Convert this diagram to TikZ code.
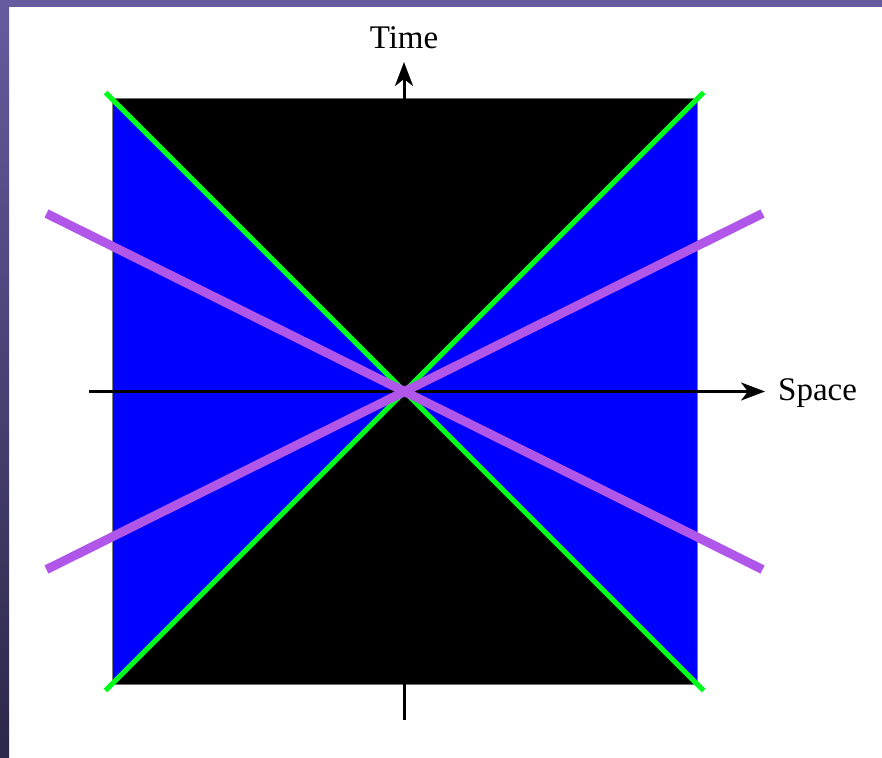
\documentclass[tikz,border=0pt]{standalone}
\usepackage{fontspec}
\setmainfont{Liberation Serif}
\usetikzlibrary{arrows.meta,calc}
\definecolor{bandtop}{HTML}{665B9E}
\definecolor{bandbot}{HTML}{2C2849}
\definecolor{lightblue}{HTML}{0000FF}
\definecolor{conegreen}{HTML}{00FF1A}
\definecolor{violet}{HTML}{B056E9}
\begin{document}
\begin{tikzpicture}[x=1pt,y=-1pt,
  axis/.style={line width=3pt,draw=black},
  tip/.style={-{Stealth[length=24pt,width=18pt,inset=7pt]}},
  cone/.style={line width=5pt,draw=conegreen},
  frame/.style={line width=9pt,draw=violet},
  lbl/.style={font=\fontsize{33}{40}\selectfont,inner sep=0pt}]
\useasboundingbox (0,0) rectangle (882,757);
\fill[white] (0,0) rectangle (882,757);
\shade[top color=bandtop,bottom color=bandbot] (0,0) rectangle (9,757);
\fill[bandtop] (0,0) rectangle (882,7);
% key points
\coordinate (O) at (404.5,391.5);
\coordinate (TL) at (112,99);
\coordinate (TR) at (697,99);
\coordinate (BL) at (112,684);
\coordinate (BR) at (697,684);
% diagram square
\filldraw[fill=lightblue,draw=gray,line width=1pt] (TL) rectangle (BR);
\fill[black] (TL) -- (TR) -- (O) -- cycle;
\fill[black] (BL) -- (BR) -- (O) -- cycle;
% axes
\coordinate (tbot) at (404,720);
\coordinate (ttop) at (404,62);
\coordinate (sleft) at (89,391.5);
\coordinate (sright) at (765,391.5);
\draw[axis,tip] (tbot) -- (ttop);
\draw[axis,tip] (sleft) -- (sright);
% light cone
\coordinate (g1) at ($(O)+(-299,-299)$);
\coordinate (g2) at ($(O)+(299,299)$);
\coordinate (g3) at ($(O)+(-299,299)$);
\coordinate (g4) at ($(O)+(299,-299)$);
\draw[cone] (g1) -- (g2);
\draw[cone] (g3) -- (g4);
% purple lines
\coordinate (p1) at ($(O)+(-358,-178)$);
\coordinate (p2) at ($(O)+(358,178)$);
\coordinate (p3) at ($(O)+(-358,178)$);
\coordinate (p4) at ($(O)+(358,-178)$);
\draw[frame] (p1) -- (p2);
\draw[frame] (p3) -- (p4);
% labels
\node[lbl,anchor=base] (timelabel) at (404,49) {Time};
\node[lbl,anchor=base west] (spacelabel) at (778,400) {Space};
\end{tikzpicture}
\end{document}
